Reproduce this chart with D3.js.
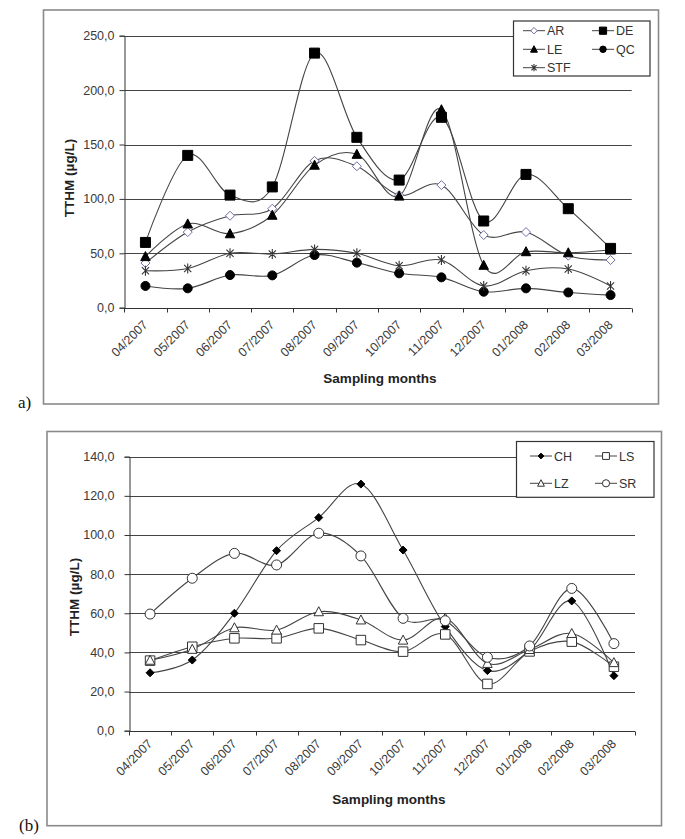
<!DOCTYPE html>
<html><head><meta charset="utf-8">
<script src="https://cdn.jsdelivr.net/npm/d3@7"></script>
<style>
body{margin:0;background:#fff;}
svg{display:block;font-family:"Liberation Sans",Arial,sans-serif;}
</style>
</head><body>
<svg id="c" width="685" height="839"></svg>
<script>
// ---------- data ----------
const months = ["04/2007","05/2007","06/2007","07/2007","08/2007","09/2007","10/2007","11/2007","12/2007","01/2008","02/2008","03/2008"];

// panel a
const yTicksA = [0, 50, 100, 150, 200, 250];
const namesA = ["AR","DE","LE","QC","STF"];
const AR  = [41, 69.5, 84.5, 91, 135, 130, 103.5, 112.7, 66.8, 69.5, 47.8, 43.8];
const DE  = [60, 140, 103.5, 111, 234, 156.6, 117.3, 175, 79.7, 122.5, 91, 54.5];
const LE  = [47, 77, 68, 85, 131, 141, 102.6, 182, 39, 51.5, 50.5, 53];
const QC  = [20, 17.8, 30, 29.7, 48.4, 41.4, 31.6, 27.9, 14.7, 17.8, 14, 11.6];
const STF = [34, 36, 50, 49.3, 53.6, 50, 38.6, 43.8, 20, 34, 35.5, 20];

// panel b
const yTicksB = [0, 20, 40, 60, 80, 100, 120, 140];
const namesB = ["CH","LS","LZ","SR"];
const CH = [29.6, 36.1, 60, 92, 108.9, 126, 92.3, 53.2, 30.7, 41, 66.3, 28.1];
const LS = [35.8, 42.9, 47.2, 47.2, 52.3, 46.3, 40.4, 49.2, 23.9, 40.5, 45.5, 32.7];
const LZ = [36, 41.6, 52.6, 51.4, 60.8, 56.6, 46.3, 57.5, 34.4, 41.5, 49.7, 34.8];
const SR = [59.6, 77.9, 90.6, 84.7, 100.9, 89.3, 57.4, 56.2, 37.5, 43.3, 72.7, 44.5];

const yTitle = "TTHM (\u00b5g/L)";
const xTitle = "Sampling months";

// ---------- marker shapes ----------
function markerPath(type, s) {
  const h = s / 2;
  switch (type) {
    case "diamond": return `M0,${-h}L${h},0L0,${h}L${-h},0Z`;
    case "square": return `M${-h},${-h}H${h}V${h}H${-h}Z`;
    case "triangle": return `M0,${-h*1.05}L${h},${h*0.85}L${-h},${h*0.85}Z`;
    case "circle": return d3.symbol(d3.symbolCircle, Math.PI * h * h)();
    case "asterisk": {
      const d = h * 0.72;
      return `M0,${-h}V${h}M${-d},${-d}L${d},${d}M${-d},${d}L${d},${-d}`;
    }
  }
}

const svg = d3.select("#c");

function drawPanel(cfg) {
  const g = svg.append("g");
  // frame
  g.append("rect").attr("x", cfg.frame[0]).attr("y", cfg.frame[1])
    .attr("width", cfg.frame[2] - cfg.frame[0]).attr("height", cfg.frame[3] - cfg.frame[1])
    .attr("fill", "none").attr("stroke", "#8a8a8a").attr("stroke-width", 1.6);
  g.append("text").attr("x", cfg.tag[0]).attr("y", cfg.tag[1])
    .attr("font-family", "'Liberation Serif','Times New Roman',serif").attr("font-size", 17)
    .attr("fill", "#111").text(cfg.tagText);

  const x = d3.scaleBand().domain(months).range([cfg.plot.x0, cfg.plot.x1]);
  const y = d3.scaleLinear().domain([0, cfg.yMax]).range([cfg.plot.y0, cfg.plot.yTop]);

  // gridlines
  g.append("g").selectAll("line").data(cfg.yTicks.filter(d => d > 0)).join("line")
    .attr("x1", cfg.plot.x0).attr("x2", cfg.plot.x1)
    .attr("y1", d => Math.round(y(d)) + 0.5).attr("y2", d => Math.round(y(d)) + 0.5)
    .attr("stroke", "#444").attr("stroke-width", 1.1);

  // y axis
  const ya = g.append("g").attr("transform", `translate(${Math.round(cfg.plot.x0) + 0.5},0)`)
    .call(d3.axisLeft(y).tickValues(cfg.yTicks).tickSize(5).tickPadding(cfg.yPad)
      .tickFormat(d => d.toFixed(1).replace(".", ",")));
  ya.select(".domain").attr("stroke", "#333");
  ya.selectAll(".tick line").attr("stroke", "#333");
  ya.selectAll("text").attr("font-size", 12.5).attr("fill", "#3a3a3a")
    .attr("font-family", "'Liberation Sans',Arial,sans-serif");

  // x axis line and boundary ticks
  const xa = g.append("g").attr("transform", `translate(0,${Math.round(cfg.plot.y0) + 0.5})`);
  xa.append("line").attr("x1", cfg.plot.x0).attr("x2", cfg.plot.x1).attr("stroke", "#333");
  const bounds = months.map(m => x(m)).concat([x(months[months.length - 1]) + x.bandwidth()]);
  xa.selectAll("line.tk").data(bounds).join("line").attr("class", "tk")
    .attr("x1", d => Math.round(d) + 0.5).attr("x2", d => Math.round(d) + 0.5)
    .attr("y1", 0).attr("y2", 4).attr("stroke", "#333");
  xa.selectAll("text").data(months).join("text")
    .attr("transform", d => `translate(${x(d) + x.bandwidth() / 2 + cfg.xLab[0]},${cfg.xLab[1]}) rotate(-45)`)
    .attr("text-anchor", "end").attr("font-size", 12.5).attr("fill", "#3a3a3a").text(d => d);

  // titles
  g.append("text").attr("transform", `translate(${cfg.yTitlePos[0]},${cfg.yTitlePos[1]}) rotate(-90)`)
    .attr("text-anchor", "middle").attr("font-weight", "bold").attr("font-size", 13.5)
    .attr("fill", "#222").text(yTitle);
  g.append("text").attr("x", cfg.xTitlePos[0]).attr("y", cfg.xTitlePos[1])
    .attr("text-anchor", "middle").attr("font-weight", "bold").attr("font-size", 13.5)
    .attr("fill", "#222").text(xTitle);

  // legend box (drawn before lines? legend is on top in the reference)
  const line = d3.line().x((d, i) => x(months[i]) + x.bandwidth() / 2).y(d => y(d))
    .curve(d3.curveCardinal.tension(0));

  cfg.series.forEach(s => {
    g.append("path").datum(s.values).attr("d", line).attr("fill", "none")
      .attr("stroke", "#444").attr("stroke-width", 1.1);
  });
  cfg.series.forEach(s => {
    g.append("g").selectAll("path").data(s.values).join("path")
      .attr("transform", (d, i) => `translate(${x(months[i]) + x.bandwidth() / 2},${y(d)})`)
      .attr("d", markerPath(s.shape, s.size))
      .attr("fill", s.fill).attr("stroke", s.stroke).attr("stroke-width", s.sw || 1);
  });

  // legend
  const L = cfg.legend;
  const lg = g.append("g");
  lg.append("rect").attr("x", L.box[0]).attr("y", L.box[1])
    .attr("width", L.box[2] - L.box[0]).attr("height", L.box[3] - L.box[1])
    .attr("fill", "#fff").attr("stroke", "#333").attr("stroke-width", 1.2);
  cfg.series.forEach((s, i) => {
    const col = i % 2, row = Math.floor(i / 2);
    const cx = L.cols[col], cy = L.rows[row];
    lg.append("line").attr("x1", cx - L.half).attr("x2", cx + L.half)
      .attr("y1", cy).attr("y2", cy).attr("stroke", "#444");
    lg.append("path").attr("transform", `translate(${cx},${cy})`)
      .attr("d", markerPath(s.shape, s.size * 0.72))
      .attr("fill", s.fill).attr("stroke", s.stroke).attr("stroke-width", s.sw || 1);
    lg.append("text").attr("x", cx + L.half + 2).attr("y", cy + 4.5)
      .attr("font-size", 12.5).attr("fill", "#333").text(s.name);
  });
}

drawPanel({
  frame: [43.5, 10, 658.5, 404],
  tag: [18, 408], tagText: "a)",
  plot: {x0: 124.3, x1: 631.7, y0: 307.7, yTop: 35.7},
  yMax: 250, yTicks: yTicksA, yPad: 5,
  xLab: [3, 17],
  yTitlePos: [74, 178], xTitlePos: [380, 383],
  series: [
    {name: namesA[0], values: AR, shape: "diamond", size: 9, fill: "#fff", stroke: "#6e6ea8", sw: 1},
    {name: namesA[1], values: DE, shape: "square", size: 10, fill: "#000", stroke: "#000"},
    {name: namesA[2], values: LE, shape: "triangle", size: 9.5, fill: "#000", stroke: "#000"},
    {name: namesA[3], values: QC, shape: "circle", size: 9, fill: "#000", stroke: "#000"},
    {name: namesA[4], values: STF, shape: "asterisk", size: 10, fill: "none", stroke: "#333", sw: 1.1}
  ],
  legend: {box: [513.5, 21, 650, 76], cols: [534, 603], rows: [30.7, 49.3, 67.7], half: 11}
});

drawPanel({
  frame: [47, 431.5, 661.5, 825.7],
  tag: [19, 831], tagText: "(b)",
  plot: {x0: 129, x1: 635, y0: 730.7, yTop: 456.7},
  yMax: 140, yTicks: yTicksB, yPad: 10,
  xLab: [3, 13],
  yTitlePos: [79, 597], xTitlePos: [389, 804],
  series: [
    {name: namesB[0], values: CH, shape: "diamond", size: 8, fill: "#000", stroke: "#000"},
    {name: namesB[1], values: LS, shape: "square", size: 9.5, fill: "#fff", stroke: "#333"},
    {name: namesB[2], values: LZ, shape: "triangle", size: 9.5, fill: "#fff", stroke: "#333"},
    {name: namesB[3], values: SR, shape: "circle", size: 10, fill: "#fff", stroke: "#333"}
  ],
  legend: {box: [516.5, 441.5, 654, 497.3], cols: [541, 606], rows: [456, 483.3], half: 11}
});
</script>
</body></html>
